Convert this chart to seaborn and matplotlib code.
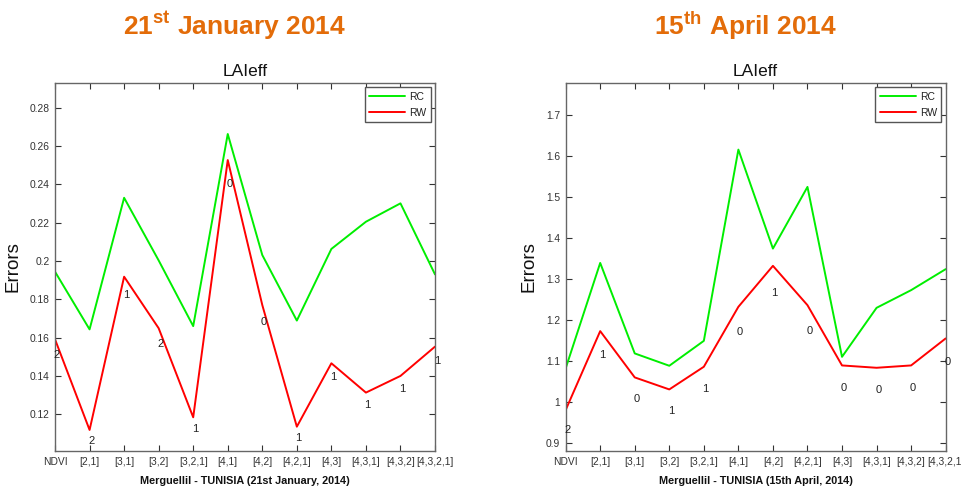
import numpy as np
import pandas as pd
import matplotlib
matplotlib.use("Agg")
import matplotlib.pyplot as plt
import seaborn as sns

sns.set_theme(style="white")
plt.rcParams["font.family"] = ["Liberation Sans", "DejaVu Sans"]
plt.rcParams["mathtext.fontset"] = "custom"
plt.rcParams["mathtext.bf"] = "Liberation Sans:bold"
plt.rcParams["mathtext.rm"] = "Liberation Sans"

# band combinations on the x axis
combos = ["NDVI", "[2,1]", "[3,1]", "[3,2]", "[3,2,1]", "[4,1]", "[4,2]",
          "[4,2,1]", "[4,3]", "[4,3,1]", "[4,3,2]", "[4,3,2,1]"]

# 21 January 2014
jan_rc = [0.1944, 0.1643, 0.2330, 0.2003, 0.1660, 0.2663, 0.2031,
          0.1689, 0.2063, 0.2205, 0.2301, 0.1930]
jan_rw = [0.1591, 0.1118, 0.1918, 0.1649, 0.1184, 0.2527, 0.1770,
          0.1135, 0.1466, 0.1313, 0.1400, 0.1553]
jan_counts = ["2", "2", "1", "2", "1", "0", "0", "1", "1", "1", "1", "1"]
jan_yticks = [0.12, 0.14, 0.16, 0.18, 0.20, 0.22, 0.24, 0.26, 0.28]
jan_ylim = (0.1008, 0.2929)

# 15 April 2014
apr_rc = [1.0828, 1.3400, 1.1193, 1.0892, 1.1500, 1.6164, 1.3750,
          1.5254, 1.1110, 1.2305, 1.2736, 1.3248]
apr_rw = [0.9812, 1.1737, 1.0608, 1.0315, 1.0868, 1.2330, 1.3329,
          1.2370, 1.0900, 1.0843, 1.0900, 1.1558]
apr_counts = ["2", "1", "0", "1", "1", "0", "1", "0", "0", "0", "0", "0"]
apr_yticks = [0.9, 1.0, 1.1, 1.2, 1.3, 1.4, 1.5, 1.6, 1.7]
apr_ylim = (0.8813, 1.7787)

series_names = ["RC", "RW"]
palette = {"RC": "#00ee00", "RW": "#ff0000"}
orange = "#e36c09"


def fmt(v):
    return f"{v:.2f}".rstrip("0").rstrip(".")


def panel(ax, rc, rw, counts, yticks, ylim, heading, sup, rest, xlabel):
    pos = np.arange(len(combos))
    df = pd.DataFrame({
        "pos": np.concatenate([pos, pos]),
        "err": np.concatenate([rc, rw]),
        "series": np.repeat(series_names, len(combos)),
    })
    sns.lineplot(data=df, x="pos", y="err", hue="series", palette=palette,
                 sort=False, linewidth=1.4, ax=ax, legend=True)
    # count labels just under the RW curve
    for i, (v, c) in enumerate(zip(rw, counts)):
        ax.text(i + 0.05, v * 0.95, c, ha="center", va="center",
                fontsize=8, color="#222222")

    ax.set_xlim(0, len(combos) - 1)
    ax.set_ylim(*ylim)
    ax.set_xticks(pos)
    ax.set_xticklabels(combos)
    ax.set_yticks(yticks)
    ax.set_yticklabels([fmt(v) for v in yticks])
    ax.tick_params(direction="in", length=4, width=0.8, colors="#333333",
                   labelsize=7.4, top=True, right=True, bottom=True, left=True,
                   pad=4)
    for s in ax.spines.values():
        s.set_visible(True)
        s.set_color("#666666")
        s.set_linewidth(1.0)
    ax.set_title("LAIeff", fontsize=12.5, pad=5, color="#111111")
    ax.set_ylabel("Errors", fontsize=13.5, color="#111111", labelpad=6)
    ax.set_xlabel(xlabel, fontsize=7.8, fontweight="bold", color="#111111",
                  labelpad=7)
    leg = ax.legend(loc="upper right", fontsize=7.5, frameon=True,
                    fancybox=False, framealpha=1, edgecolor="#555555",
                    handlelength=3.4, borderpad=0.45, labelspacing=0.55,
                    borderaxespad=0.4, handletextpad=0.4)
    leg.get_frame().set_linewidth(1.0)
    for t in leg.get_texts():
        t.set_color("#222222")
    # orange date heading with superscript ordinal
    bb = ax.get_position()
    cx = bb.x0 + bb.width / 2 - 10 / 962
    ax.figure.text(cx, 0.947,
                   rf"$\mathbf{{{heading}}}^{{\mathbf{{{sup}}}}}$" + f" {rest}",
                   ha="center", va="center", fontsize=19, fontweight="bold",
                   color=orange)


fig = plt.figure(figsize=(9.62, 4.88), dpi=100)
ax1 = fig.add_axes([0.0572, 0.0758, 0.395, 0.754])
ax2 = fig.add_axes([0.588, 0.0758, 0.395, 0.754])

panel(ax1, jan_rc, jan_rw, jan_counts, jan_yticks, jan_ylim,
      "21", "st", "January 2014", "Merguellil - TUNISIA (21st January, 2014)")
panel(ax2, apr_rc, apr_rw, apr_counts, apr_yticks, apr_ylim,
      "15", "th", "April 2014", "Merguellil - TUNISIA (15th April, 2014)")

fig.savefig("out.png", dpi=100, facecolor="white")
